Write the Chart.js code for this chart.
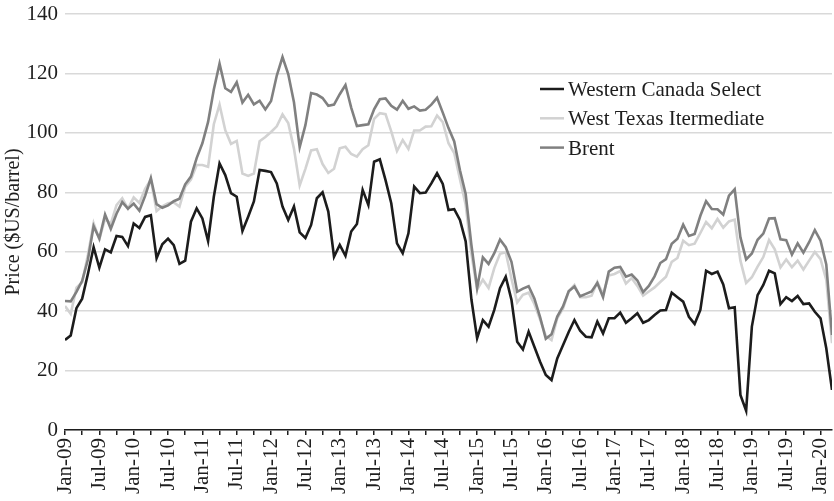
<!DOCTYPE html>
<html>
<head>
<meta charset="utf-8">
<script src="https://cdn.jsdelivr.net/npm/chart.js@4.4.1/dist/chart.umd.min.js"></script>
<style>
  html, body { margin: 0; padding: 0; background: #fff; }
  #wrap { width: 834px; height: 501px; }
</style>
</head>
<body>
<div id="wrap"><canvas id="price-chart" width="834" height="501"></canvas></div>
<script>
// monthly prices, Jan-09 .. Mar-20 (US$/barrel)
const tickLabels = ['Jan-09', 'Jul-09', 'Jan-10', 'Jul-10', 'Jan-11', 'Jul-11', 'Jan-12', 'Jul-12',
  'Jan-13', 'Jul-13', 'Jan-14', 'Jul-14', 'Jan-15', 'Jul-15', 'Jan-16', 'Jul-16', 'Jan-17', 'Jul-17',
  'Jan-18', 'Jul-18', 'Jan-19', 'Jul-19', 'Jan-20'];

const seriesNames = ['Western Canada Select', 'West Texas Itermediate', 'Brent'];

const wcs = [
  30.3, 31.8, 41.0, 44.2, 52.5, 61.5, 54.6, 60.8, 59.8, 65.3, 65.0, 61.9,
  69.5, 68.0, 71.7, 72.3, 57.8, 62.5, 64.4, 62.2, 55.9, 57.0, 70.1, 74.6,
  71.2, 63.6, 78.5, 89.7, 85.8, 79.7, 78.5, 67.0, 71.8, 76.9, 87.5, 87.2,
  86.8, 83.0, 75.2, 70.7, 75.2, 66.5, 64.6, 69.0, 78.0, 80.0, 73.5, 58.3,
  62.3, 58.6, 66.8, 69.3, 80.8, 75.7, 90.3, 91.1, 84.1, 76.3, 62.8, 59.5,
  66.2, 81.9, 79.7, 79.9, 83.0, 86.4, 82.8, 74.0, 74.3, 70.7, 63.5, 44.0,
  30.9, 37.0, 34.8, 40.4, 47.7, 51.6, 43.8, 29.7, 27.1, 33.1, 28.0, 23.0,
  18.5, 16.8, 24.1, 28.5, 33.0, 37.0, 33.4, 31.4, 31.2, 36.5, 32.5, 37.6,
  37.6, 39.5, 36.1, 37.6, 39.3, 36.1, 37.0, 38.7, 40.2, 40.4, 46.2, 44.7,
  43.2, 38.1, 35.7, 40.4, 53.6, 52.5, 53.3, 49.0, 41.0, 41.3, 11.8, 6.5,
  34.8, 45.4, 48.8, 53.6, 52.7, 42.4, 44.7, 43.4, 45.1, 42.4, 42.6, 39.8,
  37.6, 27.5, 13.5
];

const wti = [
  41.7, 39.1, 47.9, 49.7, 59.0, 69.6, 64.2, 71.1, 69.4, 75.7, 78.0, 74.5,
  78.3, 76.4, 81.2, 84.3, 73.7, 75.3, 76.3, 76.6, 75.2, 81.9, 84.3, 89.2,
  89.2, 88.6, 102.9, 109.5, 100.9, 96.3, 97.3, 86.3, 85.5, 86.3, 97.2, 98.6,
  100.3, 102.2, 106.2, 103.3, 94.7, 82.3, 87.9, 94.1, 94.5, 89.5, 86.5, 87.9,
  94.8, 95.3, 92.9, 92.0, 94.5, 95.8, 104.7, 106.6, 106.3, 100.5, 93.9, 97.6,
  94.6, 100.8, 100.8, 102.1, 102.2, 105.8, 103.6, 96.5, 93.2, 84.4, 75.8, 59.3,
  47.2, 50.6, 47.8, 54.5, 59.3, 59.8, 50.9, 42.9, 45.5, 46.2, 42.4, 37.2,
  31.7, 30.3, 37.6, 40.8, 46.7, 48.8, 44.7, 44.7, 45.2, 49.8, 45.7, 52.0,
  52.5, 53.5, 49.3, 51.1, 48.5, 45.2, 46.6, 48.0, 49.8, 51.6, 56.6, 57.9,
  63.7, 62.2, 62.7, 66.3, 70.0, 67.9, 71.0, 68.1, 70.2, 70.8, 57.0, 49.5,
  51.4, 55.0, 58.2, 63.9, 60.8, 54.7, 57.4, 54.8, 57.0, 54.0, 57.0, 59.9,
  57.5, 50.5, 29.2
];

const brent = [
  43.4, 43.3, 46.5, 50.2, 57.3, 68.6, 64.4, 72.5, 67.7, 72.8, 76.7, 74.5,
  76.2, 73.8, 78.8, 84.8, 76.0, 74.8, 75.6, 77.0, 77.8, 82.7, 85.3, 91.5,
  96.5, 103.7, 114.6, 123.3, 115.0, 113.8, 117.0, 110.2, 112.8, 109.6, 110.8, 107.9,
  110.7, 119.3, 125.5, 119.8, 110.3, 95.2, 102.6, 113.4, 112.9, 111.7, 109.1, 109.5,
  113.0, 116.1, 108.5, 102.3, 102.6, 102.9, 107.9, 111.3, 111.6, 109.1, 107.8, 110.8,
  108.1, 108.9, 107.5, 107.8, 109.5, 111.8, 106.8, 101.6, 97.1, 87.4, 79.4, 62.3,
  47.8, 58.1, 55.9, 59.5, 64.1, 61.5, 56.6, 46.5, 47.6, 48.4, 44.3, 38.0,
  30.7, 32.2, 38.2, 41.6, 46.7, 48.3, 45.0, 45.8, 46.6, 49.5, 44.7, 53.3,
  54.6, 54.9, 51.6, 52.3, 50.3, 46.4, 48.5, 51.7, 56.2, 57.5, 62.7, 64.4,
  69.1, 65.3, 66.0, 72.1, 77.0, 74.4, 74.3, 72.5, 78.9, 81.0, 64.8, 57.4,
  59.4, 64.0, 66.1, 71.2, 71.3, 64.2, 63.9, 59.0, 62.8, 59.7, 63.2, 67.3,
  63.7, 55.7, 32.0
];

const serif = '"Liberation Serif", "Times New Roman", serif';
const ink = '#1e1e1e';

function points(values) {
  return values.map((v, i) => ({ x: i, y: v }));
}

// legend drawn inside the plot, like the original
const insideLegend = {
  id: 'insideLegend',
  afterDatasetsDraw(chart) {
    const ctx = chart.ctx;
    ctx.save();
    ctx.font = '21px ' + serif;
    ctx.textBaseline = 'alphabetic';
    chart.data.datasets.forEach((ds, i) => {
      const y = 89 + i * 29.3;
      ctx.strokeStyle = ds.borderColor;
      ctx.lineWidth = 2.5;
      ctx.beginPath();
      ctx.moveTo(540, y);
      ctx.lineTo(564, y);
      ctx.stroke();
      ctx.fillStyle = ink;
      ctx.fillText(ds.label, 568, y + 7);
    });
    ctx.restore();
  }
};

new Chart(document.getElementById('price-chart'), {
  type: 'line',
  data: {
    datasets: [
      { label: seriesNames[0], data: points(wcs), borderColor: '#1c1c1c', order: 3 },
      { label: seriesNames[1], data: points(wti), borderColor: '#d2d2d2', order: 2 },
      { label: seriesNames[2], data: points(brent), borderColor: '#808080', order: 1 }
    ]
  },
  options: {
    responsive: false,
    animation: false,
    devicePixelRatio: 1,
    layout: { padding: { left: 0, right: 2, top: 14, bottom: 0 } },
    elements: {
      line: { borderWidth: 2.6, tension: 0 },
      point: { radius: 0 }
    },
    plugins: {
      legend: { display: false },
      tooltip: { enabled: false }
    },
    scales: {
      x: {
        type: 'linear',
        min: 0,
        max: 134,
        border: { color: ink, width: 1.5 },
        grid: { drawOnChartArea: false, drawTicks: true, tickLength: 5, color: ink, lineWidth: 1.5 },
        ticks: {
          stepSize: 3,
          autoSkip: false,
          includeBounds: false,
          maxRotation: 90,
          minRotation: 90,
          padding: 3,
          color: ink,
          font: { family: serif, size: 21 },
          callback: (value) => (value % 6 === 0 ? tickLabels[value / 6] : '')
        },
        afterFit: (scale) => {
          scale.paddingRight = 0;
          scale.height = 71;
        }
      },
      y: {
        min: 0,
        max: 140,
        border: { display: false },
        grid: { color: '#d9d9d9', lineWidth: 1.5, drawTicks: false },
        ticks: {
          stepSize: 20,
          padding: 7,
          color: ink,
          font: { family: serif, size: 21 }
        },
        title: {
          display: true,
          text: 'Price ($US/barrel)',
          color: ink,
          font: { family: serif, size: 20 },
          padding: { top: 2, bottom: 4 }
        },
        afterFit: (scale) => {
          scale.paddingTop = 0;
          scale.paddingBottom = 0;
          scale.width = 65;
        }
      }
    }
  },
  plugins: [insideLegend]
});
</script>
</body>
</html>
